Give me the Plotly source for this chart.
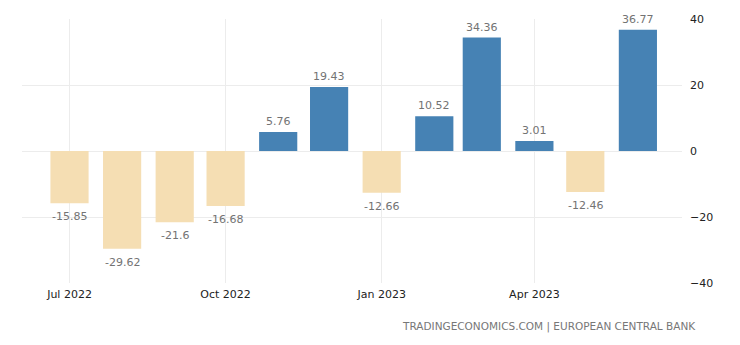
import plotly.graph_objects as go

months = ["2022-07-01", "2022-08-01", "2022-09-01", "2022-10-01", "2022-11-01", "2022-12-01",
          "2023-01-01", "2023-02-01", "2023-03-01", "2023-04-01", "2023-05-01", "2023-06-01"]
values = [-15.85, -29.62, -21.6, -16.68, 5.76, 19.43, -12.66, 10.52, 34.36, 3.01, -12.46, 36.77]
labels = ["-15.85", "-29.62", "-21.6", "-16.68", "5.76", "19.43", "-12.66", "10.52", "34.36", "3.01", "-12.46", "36.77"]
y_ticks = [-40, -20, 0, 20, 40]

POS = "#4682B4"
NEG = "#F5DEB3"
colors = [POS if v >= 0 else NEG for v in values]

FONT = "DejaVu Sans"
DAY = 86400000

fig = go.Figure(go.Bar(
    x=months, y=values,
    marker=dict(color=colors, line=dict(width=0)),
    width=[22.5 * DAY] * len(values),
    hoverinfo="skip",
))

annotations = []
for m, v, t in zip(months, values, labels):
    pos = v >= 0
    annotations.append(dict(
        x=m, y=v, xref="x", yref="y", text=t, showarrow=False,
        yanchor="bottom" if pos else "top", yshift=2 if pos else -5,
        font=dict(family=FONT, size=11, color="#737373"),
    ))
annotations.append(dict(
    text="TRADINGECONOMICS.COM | EUROPEAN CENTRAL BANK",
    xref="paper", yref="paper", x=1.024, y=-0.163,
    xanchor="right", yanchor="middle", showarrow=False,
    font=dict(family=FONT, size=10.5, color="#777"),
))

fig.update_layout(
    width=740, height=345,
    margin=dict(l=22, r=58, t=19, b=62),
    paper_bgcolor="white", plot_bgcolor="white",
    showlegend=False,
    font=dict(family=FONT, size=11, color="#222"),
    xaxis=dict(
        type="date", range=["2022-06-03", "2023-06-27"],
        tick0="2022-07-01", dtick="M3", tickformat="%b %Y",
        showgrid=True, gridcolor="#ececec", gridwidth=1,
        zeroline=False, showline=False, ticks="", ticklabelstandoff=3,
        tickfont=dict(family=FONT, size=11, color="#222"),
    ),
    yaxis=dict(
        side="right", range=[-40, 40], tickvals=y_ticks,
        showgrid=True, gridcolor="#ececec", gridwidth=1,
        zeroline=True, zerolinecolor="#ececec", zerolinewidth=1,
        showline=False, ticks="", ticklabelstandoff=7,
        tickfont=dict(family=FONT, size=11, color="#222"),
    ),
    annotations=annotations,
)

fig.write_html("out.html")
